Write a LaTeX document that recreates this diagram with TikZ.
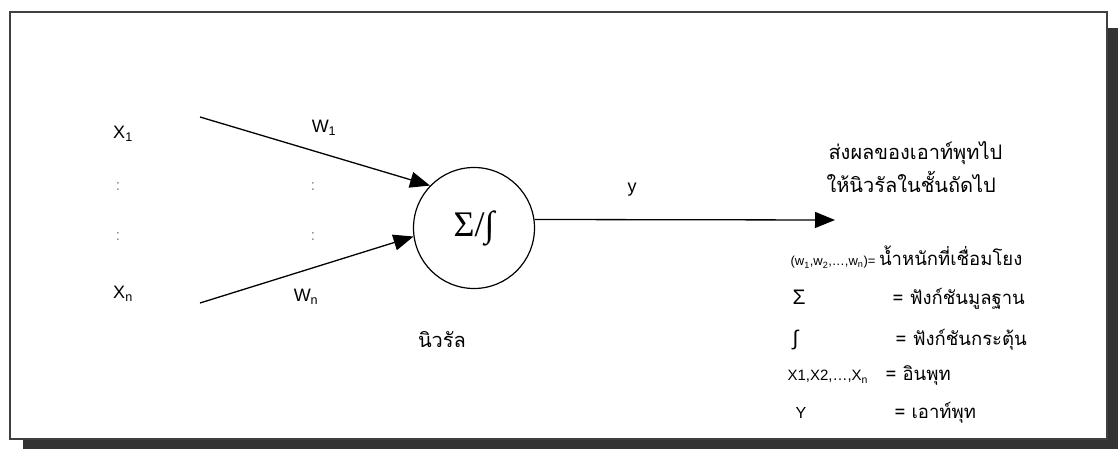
\documentclass[tikz,border=0pt]{standalone}
\usepackage{fontspec}
\setmainfont{Liberation Sans}
\newfontfamily\thai[Script=Thai]{Loma}
\newfontfamily\serif{Liberation Serif}
\usetikzlibrary{arrows.meta}
\tikzset{
  syn/.style={-{Triangle[length=20pt,width=16pt]}, line width=1.3pt},
  cell/.style={draw, circle, minimum size=121pt, inner sep=0pt, line width=1.2pt},
  lbl/.style={font=\fontsize{18}{20}\selectfont},
  dots/.style={text=black!50, font=\fontsize{15}{16}\selectfont},
  th/.style={anchor=base west, font=\thai\fontsize{20}{24}\selectfont},
  key/.style={anchor=base west, font=\fontsize{13}{14}\selectfont},
  def/.style={anchor=base west, font=\thai\fontsize{18.5}{20}\selectfont},
}

\begin{document}
\begin{tikzpicture}[x=1pt, y=-1pt]
  \useasboundingbox (0,0) rectangle (1120,449);
  % frame with its shadow
  \fill[black!80] (23,28) rectangle (1118,449);
  \draw[fill=white, line width=1.4pt, draw=black!75] (10,12) rectangle (1107,439);
  % neuron body
  \node[cell] (cell) at (474,228) {\serif\fontsize{36}{36}\selectfont Σ/∫};
  \node[th, anchor=base] (name) at (442,347) {นิวรัล};
  % input and output ends
  \coordinate (in1) at (200,117);
  \coordinate (inn) at (200,303);
  \coordinate (out) at (835,220);
  \draw[syn] (in1) -- (cell.136);
  \draw[syn] (inn) -- (cell.188);
  \draw[syn] (cell.8) -- (out);
  % input labels
  \node[lbl] (x1) at (123,134) {X\textsubscript{1}};
  \node[lbl] (xn) at (123,294) {X\textsubscript{n}};
  \node[lbl] (w1) at (324,128) {W\textsubscript{1}};
  \node[lbl] (wn) at (306,297) {W\textsubscript{n}};
  \node[dots] (d1) at (118,187) {:};
  \node[dots] (d2) at (118,237) {:};
  \node[dots] (d3) at (313,187) {:};
  \node[dots] (d4) at (313,237) {:};
  \node[lbl] (y) at (632,190) {y};
  % text beside the output
  \node[th] (next1) at (825,160) {ส่งผลของเอาท์พุทไป};
  \node[th] (next2) at (823,193) {ให้นิวรัลในชั้นถัดไป};
  % legend
  \node[key] (k1) at (787,266) {(w\textsubscript{1},w\textsubscript{2},…,w\textsubscript{n})= {\thai\fontsize{18.5}{20}\selectfont น้ำหนักที่เชื่อมโยง}};
  \node[key, font=\fontsize{21}{22}\selectfont] (k2) at (789,305) {Σ};
  \node[def] (v2) at (889,305) {= ฟังก์ชันมูลฐาน};
  \node[key, font=\fontsize{21}{22}\selectfont] (k3) at (789,345) {∫};
  \node[def] (v3) at (892,345) {=\ ฟังก์ชันกระตุ้น};
  \node[key, font=\fontsize{15}{16}\selectfont] (k4) at (784,381) {X1,X2,…,X\textsubscript{n}};
  \node[def] (v4) at (882,381) {= อินพุท};
  \node[key, font=\fontsize{16}{16}\selectfont] (k5) at (792,418) {Y};
  \node[def] (v5) at (891,418) {=\ เอาท์พุท};
\end{tikzpicture}
\end{document}
